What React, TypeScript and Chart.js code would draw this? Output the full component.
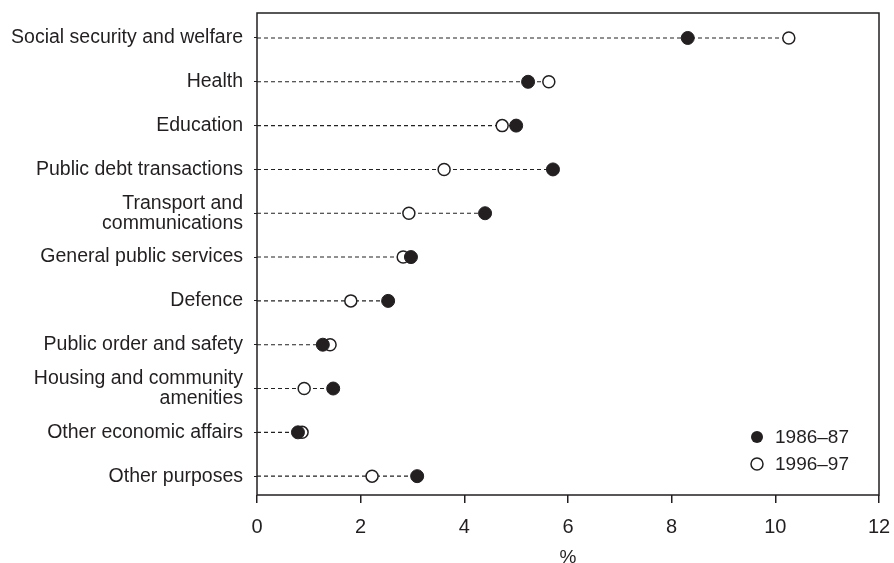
import React, { useEffect, useRef } from "react";
import { Chart, registerables } from "chart.js";

Chart.register(...registerables);

const categories: string[][] = [
  ["Social security and welfare"],
  ["Health"],
  ["Education"],
  ["Public debt transactions"],
  ["Transport and", "communications"],
  ["General public services"],
  ["Defence"],
  ["Public order and safety"],
  ["Housing and community", "amenities"],
  ["Other economic affairs"],
  ["Other purposes"],
];

const values1986 = [8.31, 5.23, 5.0, 5.71, 4.4, 2.97, 2.53, 1.27, 1.47, 0.79, 3.09];
const values1996 = [10.26, 5.63, 4.73, 3.61, 2.93, 2.82, 1.81, 1.41, 0.91, 0.87, 2.22];

const seriesLabels = ["1986–87", "1996–97"];
const xTicks = [0, 2, 4, 6, 8, 10, 12];
const xTitle = "%";

const FONT = "'Liberation Sans', Arial, sans-serif";
const INK = "#231f20";

export default function App() {
  const ref = useRef<HTMLCanvasElement | null>(null);

  useEffect(() => {
    if (!ref.current) return;

    const lineSets = categories.map((_, i) => ({
      type: "line" as const,
      label: "__line" + i,
      data: [
        { x: 0, y: i },
        { x: Math.max(values1986[i], values1996[i]), y: i },
      ],
      showLine: true,
      borderColor: "#222222",
      borderWidth: 1.1,
      borderDash: [4, 3],
      pointRadius: 0,
      pointHoverRadius: 0,
    }));

    const boxPlugin = {
      id: "boxPlugin",
      beforeDatasetsDraw(chart: any) {
        const { ctx, chartArea } = chart;
        ctx.save();
        ctx.strokeStyle = INK;
        ctx.lineWidth = 1.5;
        ctx.strokeRect(chartArea.left, chartArea.top, chartArea.right - chartArea.left, chartArea.bottom - chartArea.top);
        ctx.restore();
      },
    };

    const legendPlugin = {
      id: "insideLegend",
      afterDraw(chart: any) {
        const { ctx, chartArea } = chart;
        ctx.save();
        const mx = chartArea.right - 122;
        const tx = chartArea.right - 104;
        const rows = [chartArea.bottom - 58, chartArea.bottom - 31];
        ctx.font = `19px ${FONT}`;
        ctx.textBaseline = "middle";
        ctx.textAlign = "left";
        rows.forEach((y, k) => {
          ctx.beginPath();
          ctx.arc(mx, y, 6, 0, Math.PI * 2);
          if (k === 0) {
            ctx.fillStyle = INK;
            ctx.fill();
          } else {
            ctx.fillStyle = "#fff";
            ctx.fill();
            ctx.lineWidth = 1.5;
            ctx.strokeStyle = INK;
            ctx.stroke();
          }
          ctx.fillStyle = INK;
          ctx.fillText(seriesLabels[k], tx, y + 1);
        });
        ctx.restore();
      },
    };

    const chart = new Chart(ref.current, {
      type: "scatter",
      data: {
        datasets: [
          {
            label: seriesLabels[0],
            data: values1986.map((v, i) => ({ x: v, y: i })),
            backgroundColor: INK,
            borderColor: INK,
            borderWidth: 1,
            pointRadius: 6.5,
          },
          {
            label: seriesLabels[1],
            data: values1996.map((v, i) => ({ x: v, y: i })),
            backgroundColor: "#ffffff",
            borderColor: INK,
            borderWidth: 1.5,
            pointRadius: 6,
          },
          ...lineSets,
        ] as any,
      },
      options: {
        animation: false,
        responsive: true,
        maintainAspectRatio: false,
        layout: { autoPadding: false, padding: { top: 13, right: 15, left: 0, bottom: 0 } },
        plugins: {
          legend: { display: false },
          tooltip: { enabled: false },
        },
        scales: {
          x: {
            type: "linear",
            min: 0,
            max: 12,
            afterBuildTicks(scale: any) {
              scale.ticks = xTicks.map((v) => ({ value: v }));
            },
            afterFit(scale: any) {
              scale.height = 68;
              scale.paddingLeft = 0;
              scale.paddingRight = 0;
            },
            border: { display: false },
            grid: {
              drawOnChartArea: false,
              drawTicks: true,
              tickLength: 8,
              color: INK,
              lineWidth: 1.5,
            },
            ticks: {
              color: INK,
              padding: 12,
              font: { family: FONT, size: 20 },
              maxRotation: 0,
            },
            title: {
              display: true,
              text: xTitle,
              color: INK,
              font: { family: FONT, size: 19 },
              padding: { top: 0, bottom: -6 },
            },
          },
          y: {
            type: "linear",
            reverse: true,
            min: -0.57,
            max: 10.43,
            afterBuildTicks(scale: any) {
              scale.ticks = categories.map((_, i) => ({ value: i }));
            },
            afterFit(scale: any) {
              scale.width = 257;
              scale.paddingTop = 0;
              scale.paddingBottom = 0;
            },
            border: { display: false },
            grid: {
              drawOnChartArea: false,
              drawTicks: true,
              tickLength: 3,
              color: INK,
              lineWidth: 1,
            },
            ticks: {
              color: INK,
              padding: 11,
              font: { family: FONT, size: 19.5, lineHeight: "20px" as any },
              callback: (value: any) => categories[Math.round(Number(value))] as any,
            },
          },
        },
      },
      plugins: [boxPlugin, legendPlugin],
    });

    return () => chart.destroy();
  }, []);

  return (
    <div style={{ width: 894, height: 563, position: "fixed", left: 0, top: 0 }}>
      <canvas ref={ref} />
    </div>
  );
}
